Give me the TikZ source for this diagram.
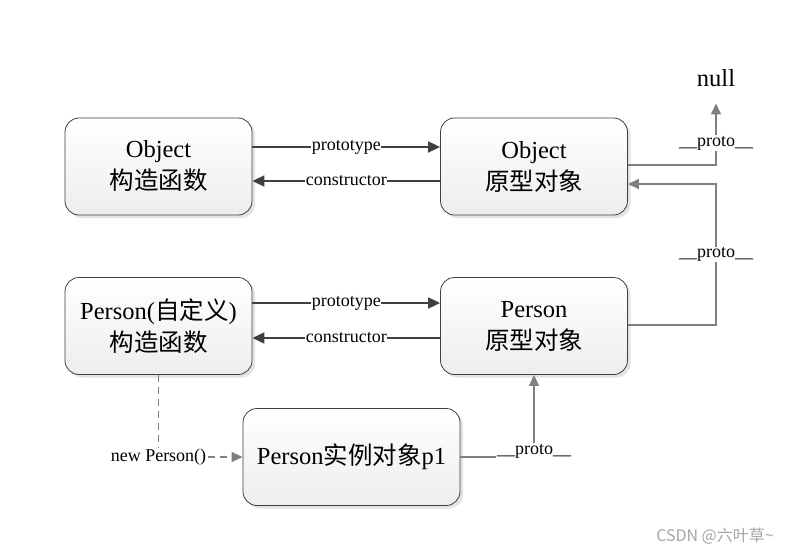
\documentclass[tikz,border=0pt]{standalone}
\usepackage{fontspec}
\setmainfont{Liberation Serif}
\newfontfamily\cjk{Noto Sans CJK SC}
\usetikzlibrary{shadows,arrows.meta}
\newcommand\zh[1]{{\cjk #1}}
\definecolor{darkline}{HTML}{404040}
\definecolor{greyline}{HTML}{808080}
\tikzset{
  box/.style={rounded corners=14pt, draw=darkline, line width=0.8pt,
    top color=white, bottom color=black!7,
    drop shadow={shadow xshift=3pt, shadow yshift=-3pt, fill=black!18, opacity=0.6},
    minimum width=187pt, minimum height=97pt, align=center,
    font=\fontsize{24.5}{32}\selectfont},
  darr/.style={draw=darkline, line width=1.8pt, -{Triangle[length=12pt,width=11pt]}},
  garr/.style={draw=greyline, line width=1.4pt, -{Triangle[length=11pt,width=10pt]}},
  gdash/.style={draw=greyline, line width=1.4pt, dash pattern=on 7pt off 5pt, -{Triangle[length=11pt,width=10pt]}},
  lbl/.style={fill=white, inner sep=1pt, text=black, font=\fontsize{18}{20}\selectfont},
}
\begin{document}
\begin{tikzpicture}[x=1pt,y=-1pt]
\fill[white] (0,0) rectangle (801,555);
\useasboundingbox (0,0) rectangle (801,555);

\node[box] (objc) at (158.5,166.5) {Object\\\zh{构造函数}};
\node[box] (objp) at (534,166.5) {Object\\\zh{原型对象}};
\node[box] (perc) at (158.5,326) {Person(\zh{自定义})\\\zh{构造函数}};
\node[box] (perp) at (534,326) {Person\\\zh{原型对象}};
\node[box, minimum width=217pt] (inst) at (351.5,457) {Person\zh{实例对象}p1};
\node[inner sep=0pt, anchor=base, font=\fontsize{24.5}{30}\selectfont] (null) at (716,86) {null};

\draw[darr] ([yshift=19.5pt]objc.east) -- node[lbl, inner sep=0.5pt]{prototype} ([yshift=19.5pt]objp.west);
\draw[darr] ([yshift=-14.5pt]objp.west) -- node[lbl, inner sep=0.5pt]{constructor} ([yshift=-14.5pt]objc.east);
\draw[darr] ([yshift=23pt]perc.east) -- node[lbl, inner sep=0.5pt]{prototype} ([yshift=23pt]perp.west);
\draw[darr] ([yshift=-12pt]perp.west) -- node[lbl, inner sep=0.5pt]{constructor} ([yshift=-12pt]perc.east);

\draw[garr, shorten >=17pt] ([yshift=1.5pt]objp.east) -| node[lbl, pos=0.64]{\_\_proto\_\_} (null.south);

\coordinate (c1) at (716,325);
\coordinate (c2) at (716,184);
\draw[garr] ([yshift=1pt]perp.east) -- (c1) -- node[lbl]{\_\_proto\_\_} (c2) -- ([yshift=-17.5pt]objp.east);

\draw[garr] (inst.east) -| node[lbl, pos=0.5, yshift=6pt]{\_\_proto\_\_} (perp.south);

\draw[gdash] (perc.south) |- node[lbl, pos=0.5]{new Person()} (inst.west);

\node[text=black!35, font=\cjk\fontsize{16}{18}\selectfont] (wm) at (715,536) {CSDN @六叶草\textasciitilde};
\end{tikzpicture}
\end{document}
